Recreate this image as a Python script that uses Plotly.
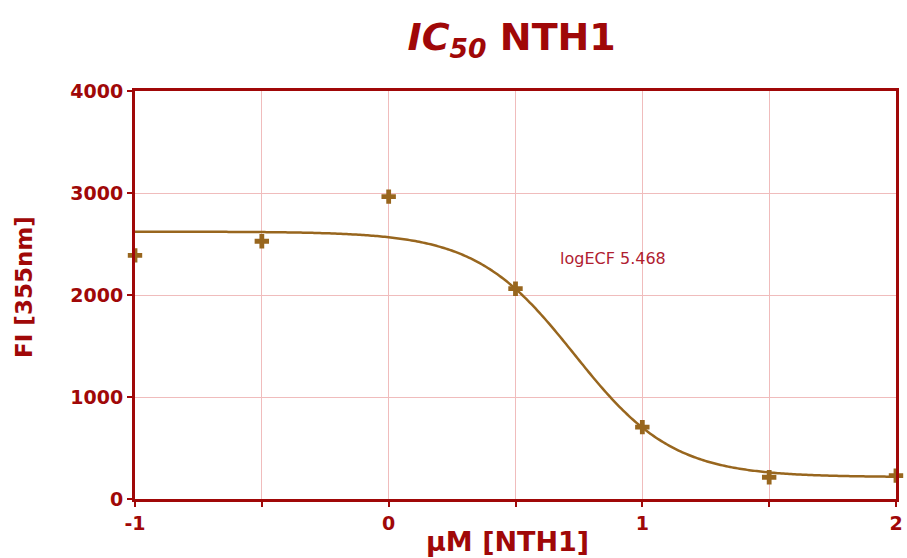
import numpy as np
import plotly.graph_objects as go

# Measured fluorescence at each log concentration
log_conc = [-1.0, -0.5, 0.0, 0.5, 1.0, 1.5, 2.0]
fluorescence = [2388, 2527, 2964, 2062, 705, 213, 229]

# Four-parameter logistic fit parameters
fit_top = 2621
fit_bottom = 215
fit_log_ec50 = 0.732
fit_hill = 2.23
fit_label = "logECF 5.468"

x_tickvals = [-1, 0, 1, 2]
x_ticktext = ["-1", "0", "1", "2"]
y_tickvals = [0, 1000, 2000, 3000, 4000]
y_ticktext = ["0", "1000", "2000", "3000", "4000"]

RED = "#A00808"
BROWN = "#98661E"
GRID = "#F0BCBC"
GRID_DASH = "solid"
FONT = "DejaVu Sans"

x_fit = np.linspace(-1, 2, 400)
y_fit = fit_bottom + (fit_top - fit_bottom) / (1 + 10 ** ((x_fit - fit_log_ec50) * fit_hill))

fig = go.Figure()
fig.add_trace(go.Scatter(x=x_fit, y=y_fit, mode="lines",
                         line=dict(color=BROWN, width=2.5, simplify=False), hoverinfo="skip",
                         cliponaxis=False, showlegend=False))
fig.add_trace(go.Scatter(x=log_conc, y=fluorescence, mode="markers",
                         marker=dict(symbol="cross", size=12, color=BROWN, line=dict(width=0)),
                         cliponaxis=False, showlegend=False))

axis_common = dict(
    showline=True, linecolor=RED, linewidth=3, mirror=True,
    ticks="outside", ticklen=5, tickwidth=2, tickcolor=RED,
    showgrid=True, gridcolor=GRID, gridwidth=1, griddash=GRID_DASH,
    zeroline=False,
    tickfont=dict(family=FONT, size=19, color=RED, weight="bold"),
)

fig.update_xaxes(range=[-1, 2], tickmode="array", tickvals=x_tickvals,
                 ticktext=x_ticktext,
                 minor=dict(dtick=0.5, tick0=-1, ticks="outside", ticklen=5, tickwidth=2,
                            tickcolor=RED, showgrid=True, gridcolor=GRID, gridwidth=1,
                            griddash=GRID_DASH),
                 **axis_common)
fig.update_yaxes(range=[0, 4000], tickmode="array", tickvals=y_tickvals,
                 ticktext=y_ticktext, **axis_common)

fig.update_layout(
    width=907, height=558,
    margin=dict(l=135, r=4, t=91, b=59),
    paper_bgcolor="white", plot_bgcolor="white",
    title=dict(text="<i>IC<sub>50</sub></i> NTH1", x=0.495, xref="paper",
               xanchor="center", y=1 - 37 / 558, yref="container", yanchor="middle",
               font=dict(family=FONT, size=38, color=RED, weight="bold")),
    annotations=[
        dict(text="FI [355nm]", textangle=-90, xref="paper", yref="paper",
             x=-0.145, y=0.519, xanchor="center", yanchor="middle", showarrow=False,
             font=dict(family=FONT, size=23, color=RED, weight="bold")),
        dict(text="\u00b5M [NTH1]", xref="paper", yref="paper",
             x=0.49, y=-0.104, xanchor="center", yanchor="middle", showarrow=False,
             font=dict(family=FONT, size=27, color=RED, weight="bold")),
        dict(text=fit_label, xref="x", yref="y", x=0.883, y=2357,
             xanchor="center", yanchor="middle", showarrow=False,
             font=dict(family=FONT, size=16, color="#B02030")),
    ],
)

fig.write_html("out.html")
